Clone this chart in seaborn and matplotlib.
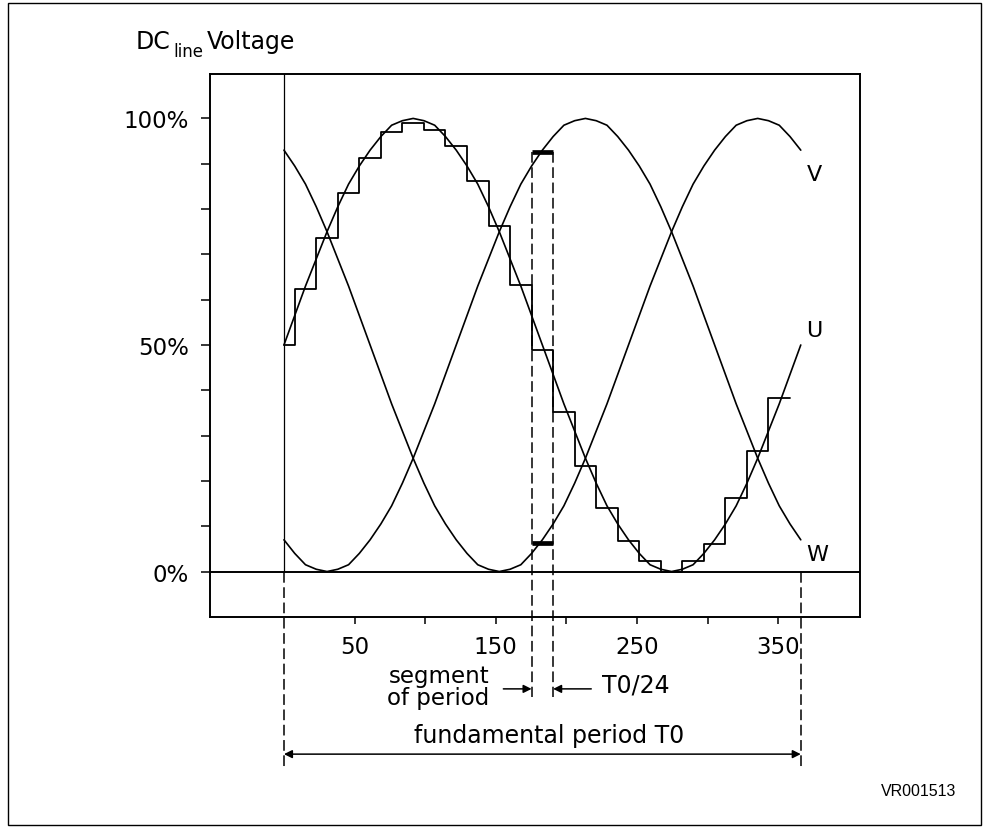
import numpy as np
import pandas as pd
import matplotlib
matplotlib.use("Agg")
import matplotlib.pyplot as plt
from matplotlib.patches import Rectangle
import seaborn as sns

# values
T0 = 366  # fundamental period on the x scale

# phase voltages (% of DC line voltage), read every T0/48 from x = 0 to x = T0
u_curve = [50, 56.5, 63, 69, 75, 80.5, 85.5, 89.5, 93, 96, 98.5, 99.5, 100,
           99.5, 98.5, 96, 93, 89.5, 85.5, 80.5, 75, 69, 63, 56.5, 50,
           43.5, 37, 31, 25, 19.5, 14.5, 10.5, 7, 4, 1.5, 0.5, 0,
           0.5, 1.5, 4, 7, 10.5, 14.5, 19.5, 25, 31, 37, 43.5, 50]
v_curve = [93, 89.5, 85.5, 80.5, 75, 69, 63, 56.5, 50, 43.5, 37, 31, 25,
           19.5, 14.5, 10.5, 7, 4, 1.5, 0.5, 0, 0.5, 1.5, 4, 7,
           10.5, 14.5, 19.5, 25, 31, 37, 43.5, 50, 56.5, 63, 69, 75,
           80.5, 85.5, 89.5, 93, 96, 98.5, 99.5, 100, 99.5, 98.5, 96, 93]
w_curve = [7, 4, 1.5, 0.5, 0, 0.5, 1.5, 4, 7, 10.5, 14.5, 19.5, 25,
           31, 37, 43.5, 50, 56.5, 63, 69, 75, 80.5, 85.5, 89.5, 93,
           96, 98.5, 99.5, 100, 99.5, 98.5, 96, 93, 89.5, 85.5, 80.5, 75,
           69, 63, 56.5, 50, 43.5, 37, 31, 25, 19.5, 14.5, 10.5, 7]

# held value of U in each of the 24 segments (T0/24 each)
u_steps = [50, 62.3, 73.7, 83.6, 91.3, 97, 99, 97.5, 93.9, 86.2, 76.3, 63.2,
           48.9, 35.2, 23.2, 14.1, 6.8, 2.3, 0, 2.3, 6.0, 16.3, 26.7, 38.3]

# V and W levels held in the marked segment
seg_index = 12
seg_high = 92.5
seg_low = 6.3

x_ticks = [50, 100, 150, 200, 250, 300, 350]
x_tick_labels = ["50", "", "150", "", "250", "", "350"]
y_ticks = [0, 50, 100]
y_tick_labels = ["0%", "50%", "100%"]
y_minor = [10, 20, 30, 40, 60, 70, 80, 90]

sns.set_style("ticks")
plt.rcParams["font.family"] = ["DejaVu Sans"]
plt.rcParams["text.color"] = "black"
plt.rcParams["xtick.color"] = "black"
plt.rcParams["ytick.color"] = "black"
plt.rcParams["axes.labelcolor"] = "black"

fig = plt.figure(figsize=(9.89, 8.29), dpi=100)
ax = fig.add_axes([0.2123, 0.2551, 0.6572, 0.6544])

curve_x = np.linspace(0, T0, len(u_curve))
curves = pd.DataFrame({
    "x": np.tile(curve_x, 3),
    "value": u_curve + v_curve + w_curve,
    "phase": ["U"] * len(u_curve) + ["V"] * len(v_curve) + ["W"] * len(w_curve),
})
sns.lineplot(data=curves, x="x", y="value", units="phase", estimator=None,
             color="black", lw=1.2, ax=ax)

# sample-and-hold staircase of U
seg = T0 / 24
edges = np.r_[0, (np.arange(1, 25) - 0.5) * seg]
sns.lineplot(x=edges, y=u_steps + [u_steps[-1]], drawstyle="steps-post",
             estimator=None, color="black", lw=1.3, ax=ax)

# marked segment
s0, s1 = edges[seg_index], edges[seg_index + 1]
ax.plot([s0, s1], [seg_high, seg_high], color="black", lw=3.4, solid_capstyle="butt")
ax.plot([s0, s1], [seg_low, seg_low], color="black", lw=3.4, solid_capstyle="butt")
for xs in (s0, s1):
    ax.plot([xs, xs], [seg_high, -27.7], color="black", lw=1.1,
            dashes=(7, 3), clip_on=False)

ax.set_xlim(-52.4, 407.9)
ax.set_ylim(-9.93, 109.8)
ylo, yhi = ax.get_ylim()

ax.axhline(0, color="black", lw=1.4)
ax.axvline(0, ymin=(0 - ylo) / (yhi - ylo), ymax=1, color="black", lw=0.9)
for xs in (0, T0):
    ax.plot([xs, xs], [0, -43.4], color="black", lw=1.1, dashes=(7, 3), clip_on=False)

ax.set_xticks(x_ticks)
ax.set_xticklabels(x_tick_labels)
ax.set_yticks(y_ticks)
ax.set_yticklabels(y_tick_labels)
ax.set_yticks(y_minor, minor=True)
ax.set_xlabel("")
ax.set_ylabel("")
ax.tick_params(axis="y", which="both", direction="out", length=6.5, width=1.1,
               pad=8.6, labelsize=16.5, color="black", labelcolor="black")
ax.tick_params(axis="x", direction="out", length=5, width=1.1, pad=8.6,
               labelsize=16.5, color="black", labelcolor="black")
for sp in ax.spines.values():
    sp.set_visible(True)
    sp.set_linewidth(1.4)
    sp.set_color("black")

# curve names
ax.text(376, 87.7, "V", ha="center", va="center", fontsize=16)
ax.text(375.4, 53.3, "U", ha="center", va="center", fontsize=16)
ax.text(378, 3.9, "W", ha="center", va="center", fontsize=16)

# annotations under the axes
ax.text(145.2, -24.4, "segment", ha="right", va="baseline", fontsize=16.5, clip_on=False)
ax.text(145.2, -29.2, "of period", ha="right", va="baseline", fontsize=16.5, clip_on=False)
ax.text(225.2, -26.5, "T0/24", ha="left", va="baseline", fontsize=17, clip_on=False)
arrow = dict(arrowstyle="-|>", color="black", lw=1.1, mutation_scale=12,
             shrinkA=0, shrinkB=0)
ax.annotate("", xy=(s0, -25.9), xytext=(s0 - 20, -25.9), arrowprops=arrow,
            annotation_clip=False)
ax.annotate("", xy=(s1, -25.9), xytext=(s1 + 27, -25.9), arrowprops=arrow,
            annotation_clip=False)

ax.text(187.7, -37.6, "fundamental period T0", ha="center", va="baseline",
        fontsize=17, clip_on=False)
ax.annotate("", xy=(T0, -40.3), xytext=(0, -40.3),
            arrowprops=dict(arrowstyle="<|-|>", color="black", lw=1.1,
                            mutation_scale=12, shrinkA=0, shrinkB=0),
            annotation_clip=False)

# title pieces
fig.text(136 / 989, 1 - 49 / 829, "DC", ha="left", va="baseline", fontsize=17)
fig.text(173 / 989, 1 - 57 / 829, "line", ha="left", va="baseline", fontsize=12)
fig.text(207 / 989, 1 - 49 / 829, "Voltage", ha="left", va="baseline", fontsize=17)

fig.text(919 / 989, 1 - 792 / 829, "VR001513", ha="center", va="center",
         fontsize=11.5, family=["Liberation Sans"])

fig.patches.append(Rectangle((0.0077, 0.0036), 0.9843, 0.9913, transform=fig.transFigure,
                             fill=False, edgecolor="black", lw=1.0))

fig.savefig("out.png", dpi=100)
